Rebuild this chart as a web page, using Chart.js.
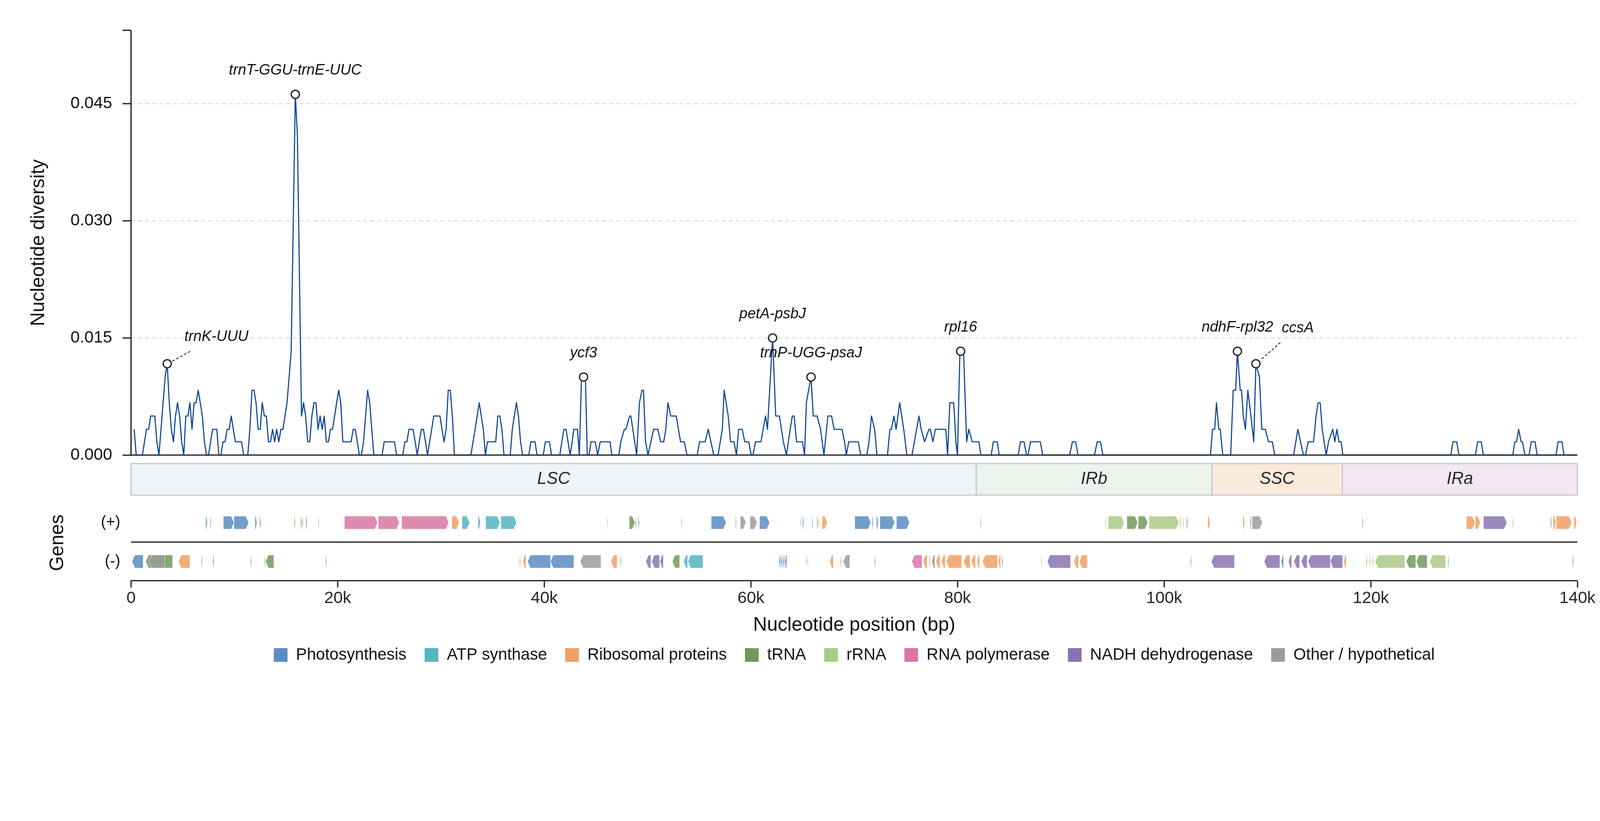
<!DOCTYPE html>
<html>
<head>
<meta charset="utf-8">
<script src="https://cdn.jsdelivr.net/npm/chart.js@4.4.1/dist/chart.umd.min.js"></script>
<style>
html,body{margin:0;padding:0;background:#ffffff;overflow:hidden;}
#wrap{width:4322px;height:2102px;position:absolute;left:0;top:0;transform-origin:0 0;}
</style>
</head>
<body>
<div id="wrap"><canvas id="c" width="4322" height="2102" style="width:4322px;height:2102px;"></canvas></div>
<script>
// ---------------- DATA ----------------
// sliding-window nucleotide diversity (window positions in bp, Pi values)
const piPos = [
 300,500,1100,1300,1500,1700,1900,2300,2500,2700,
 2900,3100,3300,3500,3700,3900,4100,4300,4500,4700,
 4900,5100,5300,5500,5700,5900,6100,6300,6500,6700,
 6900,7100,7300,7500,7700,7900,8300,8500,8700,8900,
 9100,9300,9500,9700,9900,10100,10700,10900,11300,11500,
 11700,11900,12100,12300,12500,12700,12900,13100,13300,13500,
 13700,13900,14100,14300,14500,14700,14900,15100,15300,15500,
 15700,15900,16100,16300,16500,16700,16900,17100,17300,17500,
 17700,17900,18100,18300,18500,18700,18900,19100,19300,19500,
 19700,19900,20100,20300,20500,21300,21500,21700,21900,22100,
 22300,22500,22700,22900,23100,23300,23500,24300,24500,25500,
 25700,26300,26500,26700,26900,27300,27500,27700,27900,28100,
 28300,28500,28700,28900,29100,29300,29900,30100,30300,30500,
 30700,30900,31100,31300,32900,33100,33300,33500,33700,33900,
 34100,34300,34500,35300,35500,35700,35900,36100,36700,36900,
 37100,37300,37500,37700,37900,38500,38700,39100,39300,39900,
 40100,40500,40700,41500,41700,41900,42100,42300,42500,42700,
 42850,43210,43390,43600,43800,43980,44160,44340,44520,44930,
 45170,45410,46360,46540,47220,47400,47750,47900,48260,48380,
 48940,49210,49450,49600,49800,50040,50580,50990,51260,51560,
 51760,51970,52240,52770,53190,53550,53810,54800,55030,55570,
 55870,56400,56820,57230,57410,57800,58030,58360,58600,58810,
 59160,59400,59790,60030,60200,60440,60970,61180,61420,61600,
 62100,62400,62760,63140,63440,63800,64010,64180,64420,64990,
 65190,65370,65580,65820,66030,66410,66740,67070,67450,67810,
 68050,68820,69060,69230,69470,70390,70630,71220,71430,71670,
 71970,72200,73220,73450,73600,73840,74050,74400,74790,75090,
 75590,76270,76480,76810,77230,77370,77610,77850,78860,79040,
 79250,79630,79840,79990,80230,80580,80880,81090,81420,82070,
 82250,83260,83460,83850,84030,85870,86080,86440,86670,86820,
 87060,88010,88250,90850,91120,91430,91660,93250,93520,93830,
 94070,104480,104680,104890,105060,105290,105430,105670,106440,106680,
 106920,107090,107360,107490,107660,107860,108100,108400,108670,108880,
 109220,109450,109790,110100,110470,110700,112530,112940,113480,113680,
 113950,114460,114700,114900,115100,115300,115680,115910,116320,116520,
 116720,116920,117130,117300,127750,127950,128320,128530,130120,130350,
 130690,130900,133740,133940,134110,134310,134550,134680,134920,135320,
 135530,135900,136100,137930,138130,138500,138710,139900
];
const piVal = [
 .0033,0,0,.0017,.0033,.0033,.005,.005,.0017,0,
 .0033,.0067,.01,.0117,.0067,.0033,.0017,.005,.0067,.005,
 .0017,0,.005,.005,.0067,.0033,.0067,.0067,.0083,.0067,
 .005,.0017,0,0,.0017,.0033,.0033,0,0,.0017,
 .0017,.0033,.0033,.005,.0033,.0017,.0017,0,0,.0033,
 .0083,.0083,.0067,.0033,.0033,.0067,.005,.005,.0017,.0017,
 .0033,.0017,.0033,.0017,.0033,.0033,.005,.0067,.01,.0133,
 .0297,.0462,.041,.023,.005,.0067,.005,.0017,.0017,.005,
 .0067,.0067,.0033,.005,.0033,.005,.0017,.0017,.0033,.0033,
 .005,.0067,.0083,.0067,.0017,.0017,.0033,.0033,.0017,0,
 0,.0017,.005,.0083,.0067,.0033,0,0,.0017,.0017,
 0,0,.0017,.0017,.0033,.0033,.0017,0,.0017,.0033,
 .0033,.0017,0,.0017,.0033,.005,.005,.0033,.0017,.0033,
 .0083,.0083,.005,0,0,.0017,.0033,.005,.0067,.005,
 .0033,0,.0017,.0017,.005,.005,.0033,0,0,.0033,
 .005,.0067,.005,.0017,0,0,.0017,.0017,0,0,
 .0017,.0017,0,0,.0017,.0033,.0033,.0017,0,.0017,
 .0033,.0033,0,.01,.01,.01,0,0,.0017,.0017,
 0,.0017,.0017,0,0,.0017,.0033,.0033,.005,.005,
 0,.0067,.0083,.0083,.0017,0,.0033,.0033,.0017,.0017,
 .0033,.0067,.005,.005,.0017,.0017,0,0,.0017,.0017,
 .0033,0,0,.0033,.0083,.005,.0017,.0017,0,.0033,
 .0033,.0017,.0017,0,0,.0017,.0017,.0033,.005,.0033,
 .015,.005,.005,.0017,0,.0033,.005,.005,.0017,.0017,
 0,.0067,.0083,.01,.005,.005,.0033,0,.005,.005,
 .0033,.0033,.0017,0,.0017,.0017,0,0,.0017,.005,
 .0033,0,0,.0033,.0033,.005,.0033,.0067,.0033,0,
 0,.005,.0033,.0017,.0033,.0033,.0017,.0033,.0033,0,
 .0067,.0067,.0017,0,.0133,.0133,.0017,.0033,.0017,.0017,
 0,0,.0017,.0017,0,0,.0017,.0017,0,0,
 .0017,.0017,0,0,.0017,.0017,0,0,.0017,.0017,
 0,0,.0033,.0033,.0067,.0033,.0033,0,0,.0083,
 .0083,.0133,.0083,.0083,.005,.0033,.0083,.005,.0017,.0117,
 .01,.0033,.0033,.0017,.0017,0,0,.0033,0,0,
 .0017,.0017,.005,.0067,.0067,.0033,0,.0017,.0033,.0017,
 .0033,.0017,.0017,0,0,.0017,.0017,0,0,.0017,
 .0017,0,0,.0017,.0017,.0033,.0017,.0017,0,0,
 .0017,.0017,0,0,.0017,.0017,0,0
];

// highlighted hotspots
const hotNames = ['trnK-UUU','trnT-GGU-trnE-UUC','ycf3','petA-psbJ','trnP-UGG-psaJ','rpl16','ndhF-rpl32','ccsA'];
const hotPos   = [3500, 15900, 43800, 62100, 65820, 80300, 107090, 108880];
const hotPi    = [.0117, .0462, .01, .015, .01, .0133, .0133, .0117];

// genome regions
const regionNames = ['LSC','IRb','SSC','IRa'];
const regionStart = [0, 81810, 104620, 117250];
const regionEnd   = [81810, 104620, 117250, 140000];

// functional gene categories
const geneCategories = ['Photosynthesis','ATP synthase','Ribosomal proteins','tRNA','rRNA','RNA polymerase','NADH dehydrogenase','Other / hypothetical'];

// genes on the (+) strand
const plusStart = [7220,7680,8940,9960,12000,12450,15790,16400,16540,16930,18120,20660,23930,26190,31050,32040,33590,34320,35800,46080,
 48230,48820,49100,53280,56160,58510,58970,59910,60840,64770,65000,65910,66390,66900,70050,71740,72150,72490,74090,82220,
 94310,94590,96390,97490,98540,101530,101810,102170,104230,107630,108330,108520,119190,129260,130110,130910,133720,137400,137650,137950,139680];
const plusEnd   = [7380,7770,9960,11380,12180,12570,15900,16500,16640,17050,18190,23860,25960,30740,31760,32770,33820,35710,37310,46150,
 48780,48910,49210,53350,57600,58600,59520,60590,61800,64840,65120,66000,66560,67400,71600,71850,72330,73910,75350,82310,
 94380,96120,97440,98400,101420,101650,101920,102290,104460,107810,108450,109500,119280,130090,130610,133170,133790,137510,137920,139450,139930];
const plusCat   = [0,0,0,0,0,3,3,3,3,3,0,5,5,5,2,1,1,1,1,3,
 3,3,3,3,0,0,7,7,0,0,0,0,2,2,0,0,0,0,0,3,
 3,4,3,3,4,4,4,3,2,2,3,7,3,2,2,6,3,3,2,2,2];

// genes on the (-) strand
const minusStart = [100,1420,1740,4590,6790,7910,11560,12910,13030,18830,37510,37670,37920,38380,40600,43480,46450,47360,49830,50400,
 51200,52390,53480,53900,62720,62900,63100,63280,65300,65460,67630,68660,68930,71960,75570,76670,77240,77490,77900,78450,
 78910,80580,81330,81880,82410,83940,84300,88070,88690,91250,91770,102540,104570,109680,111330,112030,112560,113270,113930,116080,
 117380,119550,119850,120150,120420,123440,124400,125720,127460,139520];
const minusEnd   = [1170,4020,3270,5690,6880,8020,11650,13000,13820,18920,37580,37740,38220,40600,42860,45490,47040,47450,50310,51150,
 51520,53100,53870,55360,62860,63040,63240,63470,65370,65530,67970,68770,69570,72050,76560,77060,77360,77810,78290,78800,
 80400,81220,81740,82130,83870,84170,84400,88140,90930,91710,92550,102630,106800,111190,111550,112330,113110,113840,116080,117270,
 117610,119640,119960,120260,123300,124350,125450,127230,127550,139620];
const minusCat   = [0,3,7,2,3,3,3,3,3,0,3,3,2,0,0,7,2,3,6,6,
 6,3,1,1,0,0,0,0,3,3,2,2,7,0,5,2,2,7,2,2,
 2,2,2,2,2,2,3,3,6,2,2,3,6,6,0,6,6,6,6,6,
 2,3,4,4,4,3,3,4,3,3];

// axis ticks
const xTickValues = [0,20000,40000,60000,80000,100000,120000,140000];
const xTickLabels = ['0','20k','40k','60k','80k','100k','120k','140k'];
const yTickValues = [0, 0.015, 0.030, 0.045];
const yTickLabels = ['0.000','0.015','0.030','0.045'];

// ---------------- STYLE ----------------
const FONT = "'Liberation Sans', Arial, Helvetica, sans-serif";
const INK = '#262626';
const Y_MAX = 0.0544, Y_MIN = -0.0161;
const catColors = ['#5b8cc1','#53b4c2','#f0a060','#71995b','#abc986','#d976a3','#8973b0','#9c9c9c'];
const regionFill = ['#eff4f7','#edf3ec','#faeadc','#f3e8f2'];
const labelStyle = {
  'trnK-UUU':   {dx:133, dy:-8,  lead:[14,-7,65,-35]},
  'ccsA':       {dx:113, dy:-32, lead:[16,-13,69,-60]}
};
// vertical layout of the tracks, offsets from the zero line (px)
const L = {regTop:23, regBot:108, plusTop:165, trackH:35, sep:235, minusTop:270, legend:200.5};

// fit the 4322x2102 drawing to the actual viewport
const W = 4322, H = 2102;
const vw = window.innerWidth || W, vh = window.innerHeight || H;
const fit = Math.min(vw / W, vh / H);
document.getElementById('wrap').style.transform = 'scale(' + fit + ')';
const DPR = (window.devicePixelRatio || 1) * fit;

function hexA(hex, a){
  const n = parseInt(hex.slice(1),16);
  return 'rgba('+((n>>16)&255)+','+((n>>8)&255)+','+(n&255)+','+a+')';
}

function geneArrow(ctx, x1, x2, top, h, dir){
  if (x2 - x1 < 1.5) x2 = x1 + 1.5;
  const w = x2 - x1;
  const head = Math.min(7.5, w*0.6);
  ctx.beginPath();
  if (dir > 0){
    ctx.moveTo(x1, top); ctx.lineTo(x2-head, top); ctx.lineTo(x2, top+h/2);
    ctx.lineTo(x2-head, top+h); ctx.lineTo(x1, top+h);
  } else {
    ctx.moveTo(x2, top); ctx.lineTo(x1+head, top); ctx.lineTo(x1, top+h/2);
    ctx.lineTo(x1+head, top+h); ctx.lineTo(x2, top+h);
  }
  ctx.closePath(); ctx.fill(); ctx.stroke();
}

const trackPlugin = {
  id: 'tracks',
  afterDatasetsDraw(chart){
    const ctx = chart.ctx, ys = chart.scales.y, a = chart.chartArea;
    const y0 = ys.getPixelForValue(0);
    ctx.save();
    ctx.strokeStyle = INK; ctx.lineWidth = 3.5;
    ctx.beginPath(); ctx.moveTo(a.left, y0); ctx.lineTo(a.right, y0); ctx.stroke();
    ctx.restore();
  },
  afterDraw(chart){
    const ctx = chart.ctx, xs = chart.scales.x, ys = chart.scales.y, a = chart.chartArea;
    const y0 = ys.getPixelForValue(0);
    const X = v => xs.getPixelForValue(v);
    ctx.save();
    // left spine of the diversity panel
    ctx.strokeStyle = INK; ctx.lineWidth = 3.5;
    ctx.beginPath(); ctx.moveTo(a.left, a.top); ctx.lineTo(a.left, y0 + 1.5); ctx.stroke();

    // y-axis title
    ctx.fillStyle = '#111'; ctx.font = '52px ' + FONT;
    ctx.textAlign = 'center'; ctx.textBaseline = 'middle';
    ctx.save(); ctx.translate(105, (a.top + y0)/2); ctx.rotate(-Math.PI/2);
    ctx.fillText('Nucleotide diversity', 0, 0); ctx.restore();

    // hotspot labels + leaders
    ctx.font = 'italic 40px ' + FONT; ctx.fillStyle = '#111';
    ctx.textAlign = 'center'; ctx.textBaseline = 'alphabetic';
    hotNames.forEach((nm, i) => {
      const cx = X(hotPos[i]), cy = ys.getPixelForValue(hotPi[i]);
      const st = labelStyle[nm] || {dx:0, dy:0};
      ctx.fillText(nm, cx + st.dx, cy - 53 + st.dy);
      if (st.lead){
        ctx.save(); ctx.setLineDash([7,5]); ctx.strokeStyle = '#333'; ctx.lineWidth = 2.5;
        ctx.beginPath(); ctx.moveTo(cx + st.lead[0], cy + st.lead[1]); ctx.lineTo(cx + st.lead[2], cy + st.lead[3]); ctx.stroke();
        ctx.restore();
      }
    });

    // region bar
    const rTop = y0 + L.regTop, rBot = y0 + L.regBot;
    regionNames.forEach((nm, i) => {
      const x1 = X(regionStart[i]), x2 = X(regionEnd[i]);
      ctx.fillStyle = regionFill[i];
      ctx.fillRect(x1, rTop, x2 - x1, rBot - rTop);
      ctx.strokeStyle = '#bcc6ce'; ctx.lineWidth = 3;
      ctx.strokeRect(x1, rTop, x2 - x1, rBot - rTop);
      ctx.fillStyle = '#22282d'; ctx.font = 'italic 46px ' + FONT;
      ctx.textAlign = 'center'; ctx.textBaseline = 'middle';
      ctx.fillText(nm, (x1 + x2)/2, (rTop + rBot)/2);
    });

    // gene tracks
    ctx.lineWidth = 1; ctx.strokeStyle = 'rgba(255,255,255,0.75)';
    plusStart.forEach((s, i) => {
      ctx.fillStyle = hexA(catColors[plusCat[i]], 0.85);
      geneArrow(ctx, X(s), X(plusEnd[i]), y0 + L.plusTop, L.trackH, 1);
    });
    minusStart.forEach((s, i) => {
      ctx.fillStyle = hexA(catColors[minusCat[i]], 0.85);
      geneArrow(ctx, X(s), X(minusEnd[i]), y0 + L.minusTop, L.trackH, -1);
    });
    // strand separator
    ctx.strokeStyle = INK; ctx.lineWidth = 3.5;
    ctx.beginPath(); ctx.moveTo(a.left, y0 + L.sep); ctx.lineTo(a.right, y0 + L.sep); ctx.stroke();

    // strand labels
    ctx.fillStyle = '#111'; ctx.font = '42px ' + FONT;
    ctx.textAlign = 'right'; ctx.textBaseline = 'middle';
    ctx.fillText('(+)', a.left - 29, y0 + L.plusTop + L.trackH/2);
    ctx.fillText('(-)', a.left - 29, y0 + L.minusTop + L.trackH/2);
    ctx.font = '52px ' + FONT; ctx.textAlign = 'center';
    ctx.save(); ctx.translate(157, y0 + L.sep + 2); ctx.rotate(-Math.PI/2);
    ctx.fillText('Genes', 0, 0); ctx.restore();

    // legend
    ctx.font = '44px ' + FONT; ctx.textBaseline = 'middle'; ctx.textAlign = 'left';
    const sw = 37, gapT = 23, gapI = 49;
    const widths = geneCategories.map(t => ctx.measureText(t).width);
    const total = widths.reduce((p, w) => p + sw + gapT + w, 0) + gapI*(geneCategories.length - 1);
    let lx = (a.left + a.right)/2 - total/2;
    const ly = a.bottom + L.legend;
    geneCategories.forEach((t, i) => {
      ctx.fillStyle = catColors[i];
      ctx.fillRect(lx, ly - sw/2, sw, sw);
      ctx.fillStyle = '#111';
      ctx.fillText(t, lx + sw + gapT, ly + 1);
      lx += sw + gapT + widths[i] + gapI;
    });
    ctx.restore();
  }
};

new Chart(document.getElementById('c').getContext('2d'), {
  type: 'line',
  data: {
    datasets: [
      {
        type: 'scatter', label: 'Hotspots',
        data: hotPos.map((x, i) => ({x: x, y: hotPi[i]})),
        pointRadius: 11, pointBackgroundColor: '#ffffff', pointBorderColor: INK,
        pointBorderWidth: 3.5, showLine: false, order: 0
      },
      {
        label: 'Pi',
        data: piPos.map((x, i) => ({x: x, y: piVal[i]})),
        borderColor: '#0c4597', borderWidth: 3, pointRadius: 0, tension: 0,
        fill: false, borderJoinStyle: 'round', order: 1
      }
    ]
  },
  options: {
    responsive: false, animation: false, devicePixelRatio: DPR,
    layout: {padding: {top: 82, left: 0, right: 61, bottom: 377}},
    plugins: {legend: {display: false}, tooltip: {enabled: false}},
    scales: {
      x: {
        type: 'linear', min: 0, max: 140000,
        afterBuildTicks: s => { s.ticks = xTickValues.map(v => ({value: v})); },
        afterFit: s => { s.height = 156; },
        ticks: {callback: (v, i) => xTickLabels[i], font: {family: FONT, size: 45}, color: '#262626',
                padding: 3, maxRotation: 0, autoSkip: false},
        grid: {drawOnChartArea: false, drawTicks: true, tickLength: 18, tickWidth: 3.5, tickColor: INK},
        border: {display: true, color: INK, width: 3.5},
        title: {display: true, text: 'Nucleotide position (bp)', font: {family: FONT, size: 52},
                color: '#111', padding: {top: 0, bottom: 4}}
      },
      y: {
        type: 'linear', min: Y_MIN, max: Y_MAX,
        afterBuildTicks: s => { s.ticks = yTickValues.concat([Y_MAX]).map(v => ({value: v})); },
        afterFit: s => { s.width = 354; },
        ticks: {callback: (v, i) => (i < yTickLabels.length ? yTickLabels[i] : ''),
                font: {family: FONT, size: 45}, color: '#111', padding: 28, autoSkip: false},
        grid: {
          color: c => (c.tick && c.tick.value > 0.0001 && c.tick.value < Y_MAX - 0.0001) ? '#d5dde3' : 'rgba(0,0,0,0)',
          lineWidth: 3, drawTicks: true, tickLength: 23, tickWidth: 3.5, tickColor: INK
        },
        border: {display: false, dash: [11, 8]}
      }
    }
  },
  plugins: [trackPlugin]
});
</script>
</body>
</html>
